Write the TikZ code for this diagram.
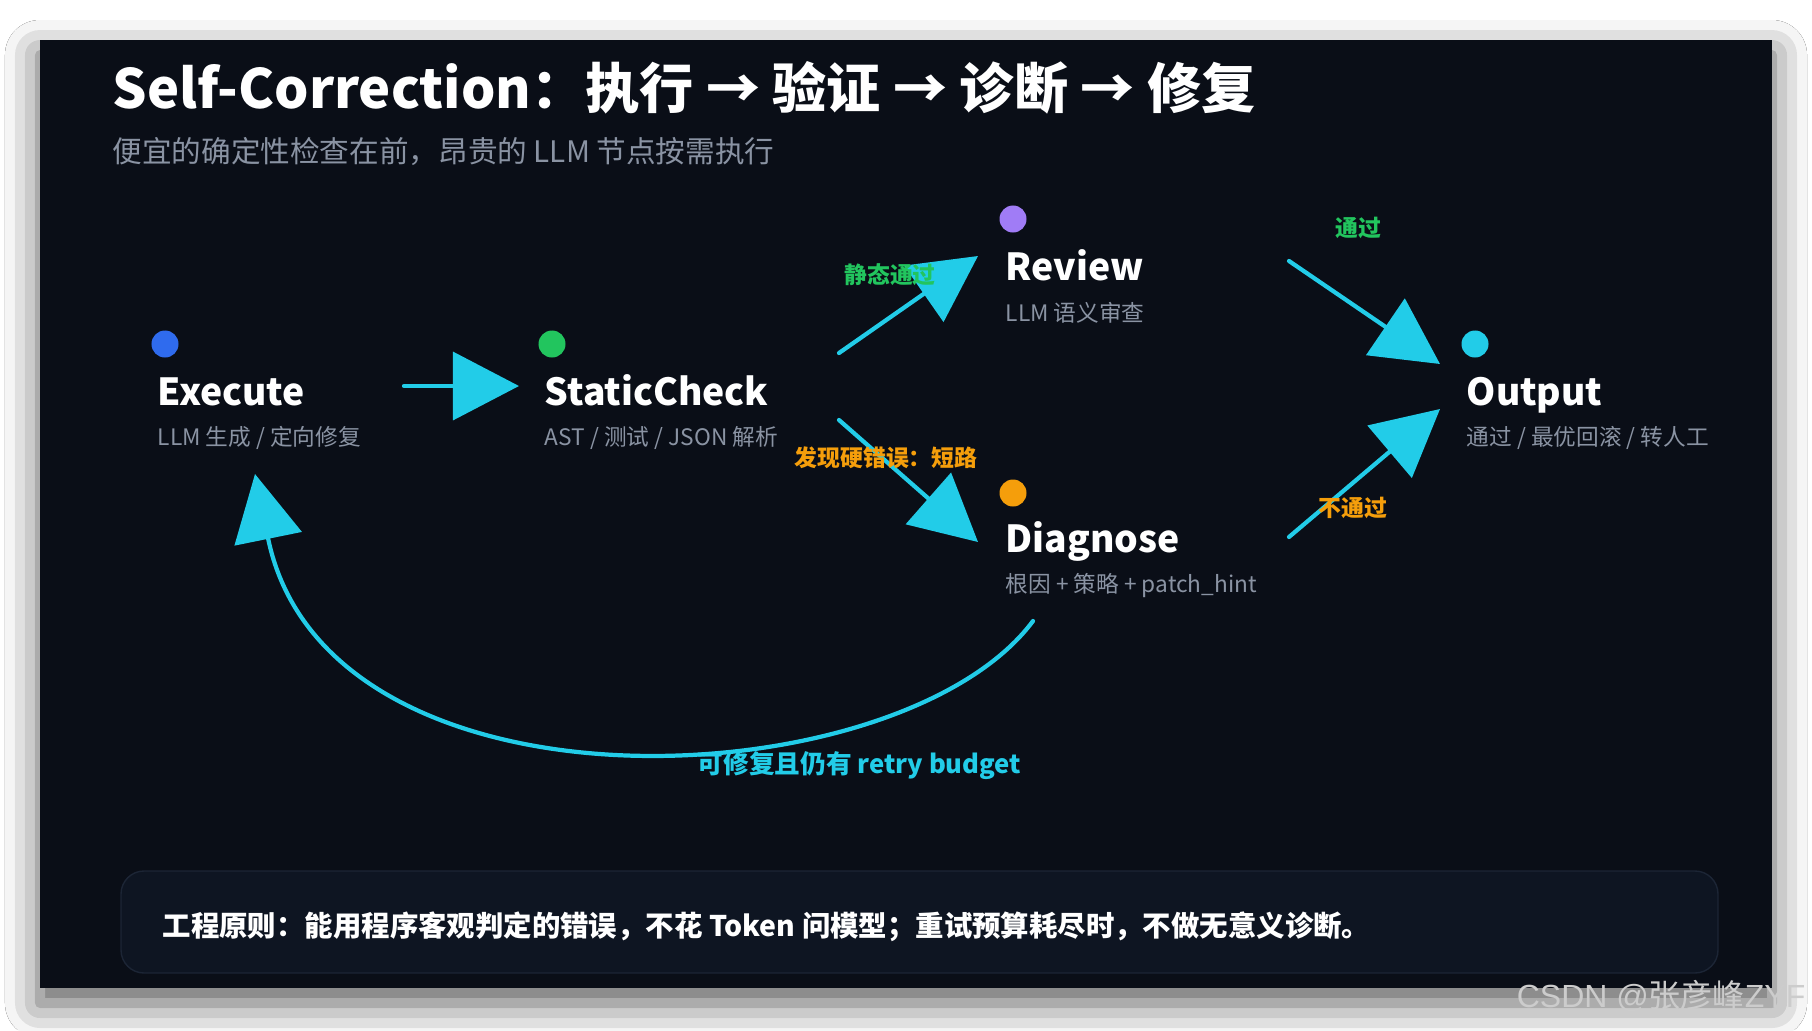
\documentclass[tikz,border=0pt]{standalone}
\usepackage{fontspec}
\setmainfont{Noto Sans CJK SC}
\newfontfamily\markfont{Liberation Sans}
\newfontfamily\cjk{Noto Sans CJK SC}
\usepackage{xcolor}
\definecolor{panelbg}{HTML}{0A0E17}
\definecolor{boxbg}{HTML}{0E1522}
\definecolor{boxline}{HTML}{1C2535}
\definecolor{flowcyan}{HTML}{22CCE8}
\definecolor{subgray}{HTML}{8A93A3}
\definecolor{okgreen}{HTML}{22C55E}
\definecolor{warnorange}{HTML}{F59E0B}
\definecolor{execblue}{HTML}{2F6BEE}
\definecolor{reviewpurple}{HTML}{A07CF6}
\newcommand{\passtxt}[1]{\textcolor{okgreen}{#1}}
\newcommand{\failtxt}[1]{\textcolor{warnorange}{#1}}
\usepackage{tikz}
\usetikzlibrary{arrows.meta}
\usetikzlibrary{calc}
\usetikzlibrary{shadows.blur}

\begin{document}
\begin{tikzpicture}[x=0.01cm, y=-0.01cm,
    statedot/.style={circle, inner sep=0pt, minimum size=0.27cm},
    stitle/.style={anchor=base west, inner sep=0pt, text=white, font=\bfseries\fontsize{10.6}{13}\selectfont},
    ssub/.style={anchor=base west, inner sep=0pt, text=subgray, font=\fontsize{6.45}{8}\selectfont},
    lbl/.style={inner sep=0pt, font=\bfseries\fontsize{6.5}{8}\selectfont},
    flow/.style={draw=flowcyan, line width=1.2pt, line cap=round, -{Triangle[length=18.8pt,width=19.3pt]}}] % Self-correction loop

      \useasboundingbox [fill=white] (0, 0) rectangle (1812, 1030);
      \fill [panelbg, blur shadow={shadow xshift=0cm, shadow yshift=-0.15cm, shadow blur radius=0.35cm, shadow opacity=65}]
      (40, 40) rectangle (1772, 988);

      \node [anchor=base west, inner sep=0pt, text=white, font=\bfseries\fontsize{15.4}{19}\selectfont] (title) at (112, 108)
      {Self-Correction：执行 → 验证 → 诊断 → 修复};
      \node [anchor=base west, inner sep=0pt, text=subgray, font=\fontsize{8.42}{10}\selectfont] (subtitle) at (112, 162)
      {便宜的确定性检查在前，昂贵的 LLM 节点按需执行};

      \node [statedot, fill=execblue] (execdot) at (165, 344) {};
      \node [stitle] (exec) at (157, 405) {Execute};
      \node [ssub] (execsub) at (157, 445) {LLM 生成 / 定向修复};

      \node [statedot, fill=okgreen] (staticdot) at (552, 344) {};
      \node [stitle] (static) at (544, 405) {StaticCheck};
      \node [ssub] (staticsub) at (544, 445) {AST / 测试 / JSON 解析};

      \node [statedot, fill=reviewpurple] (reviewdot) at (1013, 219) {};
      \node [stitle] (review) at (1005, 280) {Review};
      \node [ssub] (reviewsub) at (1005, 321) {LLM 语义审查};

      \node [statedot, fill=warnorange] (diagdot) at (1013, 493) {};
      \node [stitle] (diag) at (1005, 552) {Diagnose};
      \node [ssub] (diagsub) at (1005, 592) {根因 + 策略 + patch\_hint};

      \node [statedot, fill=flowcyan] (outdot) at (1475, 344) {};
      \node [stitle] (out) at (1466, 405) {Output};
      \node [ssub] (outsub) at (1466, 445) {通过 / 最优回滚 / 转人工};

      \draw [flow] ($(execdot)+(239, 42)$) -- ($(staticdot)+(-33, 42)$);
      \draw [flow] ($(staticdot)+(287, 9)$) -- ($(reviewdot)+(-35, 37)$);
      \draw [flow] ($(staticdot)+(287, 76)$) -- ($(diagdot)+(-35, 49)$);
      \draw [flow] ($(reviewdot)+(276, 42)$) -- ($(outdot)+(-35, 20)$);
      \draw [flow] ($(diagdot)+(276, 44)$) -- ($(outdot)+(-35, 65)$);
      \draw [flow] ($(diagdot)+(20, 128)$) .. controls +(-133, 179) and +(72, 354) .. ($(execdot)+(90, 130)$);

      \node [lbl] (passlbl) at (890, 275) {\passtxt{静态通过}};
      \node [lbl] (shortlbl) at (886, 458) {\failtxt{发现硬错误：短路}};
      \node [lbl] (oklbl) at (1358, 228) {\passtxt{通过}};
      \node [lbl] (notoklbl) at (1353, 508) {\failtxt{不通过}};
      \node [anchor=base west, inner sep=0pt, text=flowcyan, font=\bfseries\fontsize{7.3}{9}\selectfont] (retrylbl) at (697, 773)
      {可修复且仍有 retry budget};

      \filldraw [fill=boxbg, draw=boxline, line width=0.4pt, rounded corners=0.23cm] (121, 871) rectangle (1718, 973);
      \node [anchor=base west, inner sep=0pt, text=white, font=\bfseries\fontsize{8.08}{10}\selectfont] (rule) at (162, 936)
      {工程原则：能用程序客观判定的错误，不花 Token 问模型；重试预算耗尽时，不做无意义诊断。};

      \node [anchor=base east, inner sep=0pt, text=white!80!black, font=\markfont\fontsize{9.1}{11}\selectfont] (mark) at (1806, 1007)
      {CSDN @{\cjk 张彦峰}ZYF};

    \end{tikzpicture}
\end{document}
